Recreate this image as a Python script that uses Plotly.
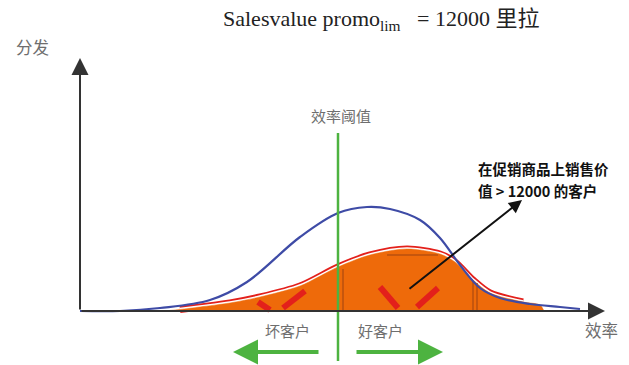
import plotly.graph_objects as go

# All customers (blue curve): efficiency vs. distribution
all_x = [0, 40, 80, 130, 167, 220, 258, 287, 310, 340, 360, 380, 400, 420, 450, 480, 500]
all_y = [0, 0, 3, 11, 29, 74, 98, 104, 102, 91, 73, 46, 23, 13, 7, 4, 2]

# Customers with promo sales value > 12000 (orange area)
promo_x = [83, 100, 120, 150, 180, 220, 258, 290, 327, 360, 375, 393, 410, 443, 460, 464]
promo_y = [0, 1.5, 4, 8, 14, 25, 44, 56, 62, 57, 49, 31, 18, 9, 6, 0]

# Efficiency threshold
threshold_x = 258

# Darker internal strokes in the orange area
brown_x = [263, 263, None, 393, 393, None, 397, 397, None, 307, 358]
brown_y = [0, 42, None, 0, 30, None, 0, 28, None, 56, 56]

# Red "V" marks
mark_x = [178, 190, None, 203, 225, None, 300, 318, None, 337, 358]
mark_y = [9, 1, None, 3, 20, None, 24, 3, None, 4, 23]

ORANGE = "#EE6A0A"
BLUE = "#3E4BA6"
GREEN = "#4DB340"
RED = "#E3201B"
GREY = "#6E6E6E"
CJK = "Noto Sans CJK SC"

fig = go.Figure()

# red outline + white gap above the orange fill (top edge only)
edge_x = promo_x[1:-2]
edge_y = promo_y[1:-2]
fig.add_trace(go.Scatter(x=edge_x, y=edge_y, mode="lines", line=dict(color=RED, width=7, shape="spline", smoothing=0.8),
                         hoverinfo="skip", showlegend=False))
fig.add_trace(go.Scatter(x=edge_x, y=edge_y, mode="lines", line=dict(color="white", width=3.5, shape="spline", smoothing=0.8),
                         hoverinfo="skip", showlegend=False))
fig.add_trace(go.Scatter(x=promo_x, y=promo_y, mode="lines", fill="tozeroy", fillcolor=ORANGE,
                         line=dict(color=ORANGE, width=0.5, shape="spline", smoothing=0.8),
                         hoverinfo="skip", showlegend=False))
fig.add_trace(go.Scatter(x=brown_x, y=brown_y, mode="lines", line=dict(color="#B8500F", width=1.5),
                         hoverinfo="skip", showlegend=False))
fig.add_trace(go.Scatter(x=mark_x, y=mark_y, mode="lines", line=dict(color=RED, width=6),
                         hoverinfo="skip", showlegend=False))
fig.add_trace(go.Scatter(x=all_x, y=all_y, mode="lines", line=dict(color=BLUE, width=2.2, shape="spline", smoothing=1.0),
                         hoverinfo="skip", showlegend=False))
fig.add_trace(go.Scatter(x=[threshold_x, threshold_x], y=[178, -50], mode="lines", line=dict(color=GREEN, width=2.5),
                         hoverinfo="skip", showlegend=False))

ann = []
# axes with arrows
ann.append(dict(x=0, y=253, ax=0, ay=0, xref="x", yref="y", axref="x", ayref="y", text="",
                showarrow=True, arrowhead=2, arrowsize=1.7, arrowwidth=2, arrowcolor="#333"))
ann.append(dict(x=525, y=0, ax=0, ay=0, xref="x", yref="y", axref="x", ayref="y", text="",
                showarrow=True, arrowhead=2, arrowsize=1.7, arrowwidth=2, arrowcolor="#333"))
# black diagonal arrow
ann.append(dict(x=442, y=111, ax=328, ay=21, xref="x", yref="y", axref="x", ayref="y", text="",
                showarrow=True, arrowhead=2, arrowsize=1.3, arrowwidth=2, arrowcolor="#111"))
# green arrows
ann.append(dict(x=153, y=-41, ax=240, ay=-41, xref="x", yref="y", axref="x", ayref="y", text="",
                showarrow=True, arrowhead=2, arrowsize=1.25, arrowwidth=4, arrowcolor=GREEN))
ann.append(dict(x=363, y=-41, ax=275, ay=-41, xref="x", yref="y", axref="x", ayref="y", text="",
                showarrow=True, arrowhead=2, arrowsize=1.25, arrowwidth=4, arrowcolor=GREEN))

def txt(x, y, t, size, color=GREY, family=CJK, xanchor="center"):
    ann.append(dict(x=x, y=y, xref="x", yref="y", text=t, showarrow=False, xanchor=xanchor, yanchor="middle",
                    font=dict(size=size, color=color, family=family)))

txt(301, 291, "Salesvalue promo<sub>lim</sub>&nbsp;&nbsp;&nbsp;= 12000 里拉", 22, "#222",
    "Liberation Serif, " + CJK)
txt(-48, 264, "分发", 16.5)
txt(521, -19, "效率", 16.5)
txt(261, 196, "效率阈值", 15)
txt(207, -19, "坏客户", 15)
txt(300, -19, "好客户", 15)
txt(396, 143, "<b>在促销商品上销售价</b>", 14.5, "#111", xanchor="left")
txt(396, 121, "<b>值 &gt; 12000 的客户</b>", 14.5, "#111", xanchor="left")

fig.update_layout(
    width=629, height=365, margin=dict(l=0, r=0, t=0, b=0),
    plot_bgcolor="white", paper_bgcolor="white",
    xaxis=dict(range=[-80, 549], visible=False, fixedrange=True),
    yaxis=dict(range=[-54, 311], visible=False, fixedrange=True),
    annotations=ann,
)

fig.write_html("out.html")
